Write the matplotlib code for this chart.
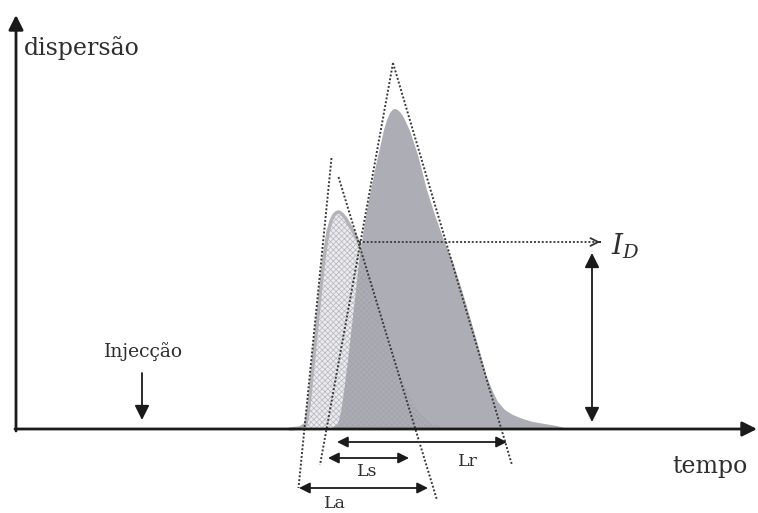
import matplotlib
matplotlib.use("Agg")
import matplotlib.pyplot as plt

plt.rcParams["hatch.linewidth"] = 0.5
plt.rcParams["mathtext.fontset"] = "dejavuserif"

# ---- data (time in px-like units, dispersion height above baseline) ----
small_t = [290, 300, 306, 309, 312, 316, 320, 324, 328, 331, 334, 336, 338, 340, 342, 346,
           350, 354, 360, 366, 372, 380, 390, 400, 410, 420, 430, 440, 452]
small_h = [0, 1, 5, 24, 54, 94, 134, 171, 197, 208, 214, 216, 217, 216.5, 215, 210,
           203, 196, 184, 167, 147, 119, 84, 54, 31, 16, 7, 2, 0]

big_t = [322, 332, 338, 341, 344, 348, 352, 356, 360, 365, 370, 375, 380, 384, 387, 390,
         393, 395, 397, 400, 403, 406, 410, 418, 427, 436, 445, 453, 462, 470, 478, 487,
         493, 498, 505, 513, 523, 533, 545, 557, 568]
big_h = [0, 1, 5, 17, 37, 69, 104, 139, 174, 207, 234, 259, 281, 299, 309, 316,
         319.5, 320, 319.5, 317, 313, 307, 298, 274, 239, 211, 186, 167, 139, 112, 84, 52,
         37, 27, 19, 14, 10, 7, 5, 3, 0]

# tangent lines: (t_top, h_top, t_bottom, h_bottom)
tangents = [
    (331.5, 271, 298.5, -59),   # small peak, rising
    (338.5, 252, 437.0, -71),   # small peak, falling
    (393.0, 366, 320.0, -36),   # big peak, rising
    (393.0, 366, 512.0, -36),   # big peak, falling
]

# widths (label, start, end, height, label_t, label_h)
widths = [("Lr", 337, 507, -13, 468, -33),
          ("Ls", 328, 409, -29, 367, -43),
          ("La", 299, 428, -59, 335, -74)]

ID_level = 187
ID_start, ID_end = 359, 603
inj_t = 142

# ---- figure ----
fig = plt.figure(figsize=(7.58, 5.13), dpi=100)
ax = fig.add_axes([0, 0, 1, 1])
ax.set_xlim(0, 758)
ax.set_ylim(-84, 429)
ax.axis("off")

serif = "DejaVu Serif"
txt = "#2e2e2e"

# small peak (light, cross-hatched)
ax.fill_between(small_t, 0, small_h, facecolor="#ececf0", edgecolor="#c6c6ce",
                hatch="xxxxxx", linewidth=0, zorder=2)
# big peak (dark gray)
ax.fill_between(big_t, 0, big_h, facecolor="#a9a9b1", edgecolor="none",
                alpha=0.95, zorder=3)
# hatch showing through
ax.fill_between(small_t, 0, small_h, facecolor="none", edgecolor="#8e8e96",
                hatch="xxxxxx", linewidth=0, alpha=0.25, zorder=4)
# small peak outline (visible part)
ax.plot(small_t[:19], small_h[:19], color="#b3b3b8", lw=2.5, zorder=5,
        solid_capstyle="round")

# tangents
for t0, h0, t1, h1 in tangents:
    ax.plot([t0, t1], [h0, h1], color="#3a3a3a", lw=1.4, ls=(0, (1, 1)), zorder=6)

# I_D dotted horizontal line with open head
ax.plot([ID_start, ID_end - 2], [ID_level, ID_level], color="#444444", lw=1.4,
        ls=(0, (1, 1)), zorder=6)
ax.annotate("", xy=(ID_end, ID_level), xytext=(ID_end - 6, ID_level),
            arrowprops=dict(arrowstyle="->", color="#333333", lw=1.3,
                            mutation_scale=14), zorder=7)
ax.text(611, ID_level - 4, r"$I_D$", fontsize=20, va="center", ha="left",
        color=txt)

# vertical double arrow
ax.annotate("", xy=(592, 176), xytext=(592, 7),
            arrowprops=dict(arrowstyle="<|-|>", color="#1a1a1a", lw=1.3,
                            mutation_scale=22, shrinkA=0, shrinkB=0))

# axes
ax.annotate("", xy=(757, 0), xytext=(15, 0),
            arrowprops=dict(arrowstyle="-|>", color="#1a1a1a", lw=2,
                            mutation_scale=22, shrinkA=0, shrinkB=0), zorder=8)
ax.annotate("", xy=(16, 414), xytext=(16, -2),
            arrowprops=dict(arrowstyle="-|>", color="#1a1a1a", lw=2,
                            mutation_scale=22, shrinkA=0, shrinkB=0), zorder=8)

# width arrows
for lab, a, b, h, lx, ly in widths:
    ax.annotate("", xy=(b, h), xytext=(a, h),
                arrowprops=dict(arrowstyle="<|-|>", color="#1a1a1a", lw=1.3,
                                mutation_scale=16, shrinkA=0, shrinkB=0))
    ax.text(lx, ly, lab, fontsize=12.5, ha="center", va="center", family=serif,
            color=txt)

# injection arrow
ax.annotate("", xy=(inj_t, 9), xytext=(inj_t, 56),
            arrowprops=dict(arrowstyle="-|>", color="#1a1a1a", lw=1.3,
                            mutation_scale=22, shrinkA=0, shrinkB=0))
ax.text(inj_t + 2, 77, "Injecção", fontsize=13.5, ha="center", va="center",
        family=serif, color=txt)

ax.text(24, 381, "dispersão", fontsize=17, ha="left", va="center",
        family=serif, color=txt)
ax.text(672, -37, "tempo", fontsize=17, ha="left", va="center",
        family=serif, color=txt)

fig.savefig("out.png", dpi=100)
